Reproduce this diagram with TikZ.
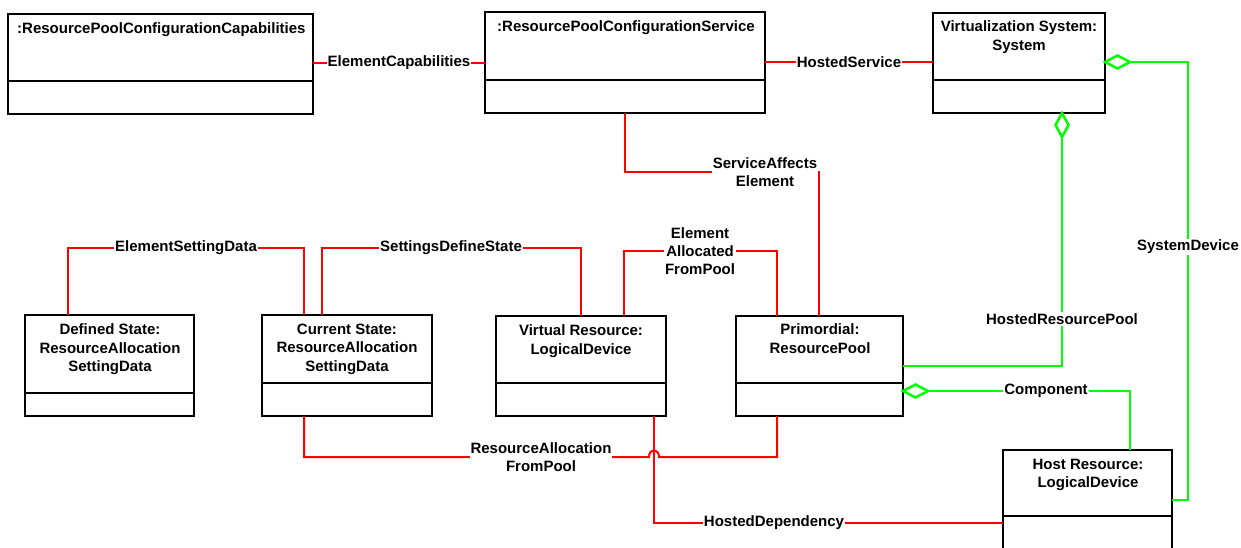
\documentclass[tikz,border=0pt]{standalone}
\usepackage{fontspec}
\setmainfont{Liberation Sans}
\usepackage{tikz}
\usetikzlibrary{positioning,calc}
\definecolor{assocred}{RGB}{255,0,0}
\definecolor{aggrgreen}{RGB}{0,255,0}
\tikzset{
umlbox/.style={draw, line width=2pt, rectangle, inner sep=0pt, outer sep=0pt, anchor=north west},
boxtitle/.style={font=\bfseries\fontsize{15}{18.5}\selectfont, align=center, inner sep=0pt},
assoc/.style={assocred, line width=2pt},
aggr/.style={aggrgreen, line width=2.5pt},
rolelabel/.style={font=\bfseries\fontsize{15}{18}\selectfont, align=center, fill=white, inner sep=1pt},
aggrdiamond/.style={aggrgreen, line width=2.5pt, fill=white, line join=miter}
}

\begin{document}
\begin{tikzpicture}[x=1pt,y=-1pt]
\useasboundingbox (0,0) rectangle (1241,548);
\clip (0,0) rectangle (1241,548);

% classes
\node[umlbox, minimum width=305, minimum height=100] (rpcc) at (8,14) {};
\node[umlbox, minimum width=280, minimum height=101] (rpcs) at (485,12) {};
\node[umlbox, minimum width=172, minimum height=100] (vsys) at (933,13) {};
\node[umlbox, minimum width=169, minimum height=101] (defst) at (25,315) {};
\node[umlbox, minimum width=170, minimum height=101] (curst) at (262,315) {};
\node[umlbox, minimum width=170, minimum height=100] (virt) at (496,316) {};
\node[umlbox, minimum width=167, minimum height=100] (prim) at (736,316) {};
\node[umlbox, minimum width=169, minimum height=110] (host) at (1003,450) {};
\foreach \b/\y in {rpcc/81, rpcs/80, vsys/80, defst/393, curst/383, virt/383, prim/383, host/516}
  \draw[line width=2pt] (\b.west |- 0,\y) -- (\b.east |- 0,\y);

\node[boxtitle, anchor=north west] (rpccT) at (17,22.5) {:ResourcePoolConfigurationCapabilities};
\node[boxtitle, anchor=north west] (rpcsT) at (497,20.5) {:ResourcePoolConfigurationService};
\node[boxtitle, anchor=north] (vsysT) at (1019,20.5) {Virtualization System:\\System};
\node[boxtitle, anchor=north] (defstT) at (110,323.5) {Defined State:\\ResourceAllocation\\SettingData};
\node[boxtitle, anchor=north] (curstT) at (347,323.5) {Current State:\\ResourceAllocation\\SettingData};
\node[boxtitle, anchor=north] (virtT) at (581,324.5) {Virtual Resource:\\LogicalDevice};
\node[boxtitle, anchor=north] (primT) at (820,323.5) {Primordial:\\ResourcePool};
\node[boxtitle, anchor=north] (hostT) at (1088,458.5) {Host Resource:\\LogicalDevice};

% associations
\draw[assoc] (rpcc.east |- 0,63) -- (rpcs.west |- 0,63);
\draw[assoc] (rpcs.east |- 0,62) -- (vsys.west |- 0,62);
\draw[assoc] (rpcs.south -| 625,0) -- (625,172) -- (819,172) -- (prim.north -| 819,0);
\draw[assoc] (defst.north -| 68,0) -- (68,248) -- (304,248) -- (curst.north -| 304,0);
\draw[assoc] (curst.north -| 322,0) -- (322,248) -- (581,248) -- (virt.north -| 581,0);
\draw[assoc] (virt.north -| 624,0) -- (624,251) -- (777,251) -- (prim.north -| 777,0);
\draw[assoc] (curst.south -| 304,0) -- (304,457) -- (649,457)
  .. controls (649,448) and (659,448) .. (659,457) -- (777,457) -- (prim.south -| 777,0);
\draw[assoc] (virt.south -| 654,0) -- (654,523) -- (host.west |- 0,523);

% aggregations
\draw[aggr] (vsys.south -| 1062,0) -- (1062,366) -- (prim.east |- 0,366);
\draw[aggr] (vsys.east |- 0,62) -- (1188,62) -- (1188,500) -- (host.east |- 0,500);
\draw[aggr] (prim.east |- 0,391) -- (1130,391) -- (host.north -| 1130,0);
% hollow diamonds at the aggregate ends
\draw[aggrdiamond] (vsys.east |- 0,62) -- ++(12.5,-6.5) -- ++(12.5,6.5) -- ++(-12.5,6.5) -- cycle;
\draw[aggrdiamond] (vsys.south -| 1062,0) -- ++(-6.5,12) -- ++(6.5,12) -- ++(6.5,-12) -- cycle;
\draw[aggrdiamond] (prim.east |- 0,391) -- ++(12.5,-6.5) -- ++(12.5,6.5) -- ++(-12.5,6.5) -- cycle;

% labels
\node[rolelabel] (ecLbl) at (399,63) {ElementCapabilities};
\node[rolelabel] (hsLbl) at (849,62) {HostedService};
\node[rolelabel, anchor=north] (saeLbl) at (765,156.5) {ServiceAffects\\Element};
\node[rolelabel] (esdLbl) at (186,248) {ElementSettingData};
\node[rolelabel] (sdsLbl) at (451,248) {SettingsDefineState};
\node[rolelabel, anchor=north] (eafpLbl) at (700,226.5) {Element\\Allocated\\FromPool};
\node[rolelabel, anchor=north] (rafpLbl) at (541,441.5) {ResourceAllocation\\FromPool};
\node[rolelabel] (hdLbl) at (774,523) {HostedDependency};
\node[rolelabel] (hrpLbl) at (1062,319) {HostedResourcePool};
\node[rolelabel] (compLbl) at (1046,391) {Component};
\node[rolelabel] (sdLbl) at (1188,247) {SystemDevice};
\end{tikzpicture}
\end{document}
